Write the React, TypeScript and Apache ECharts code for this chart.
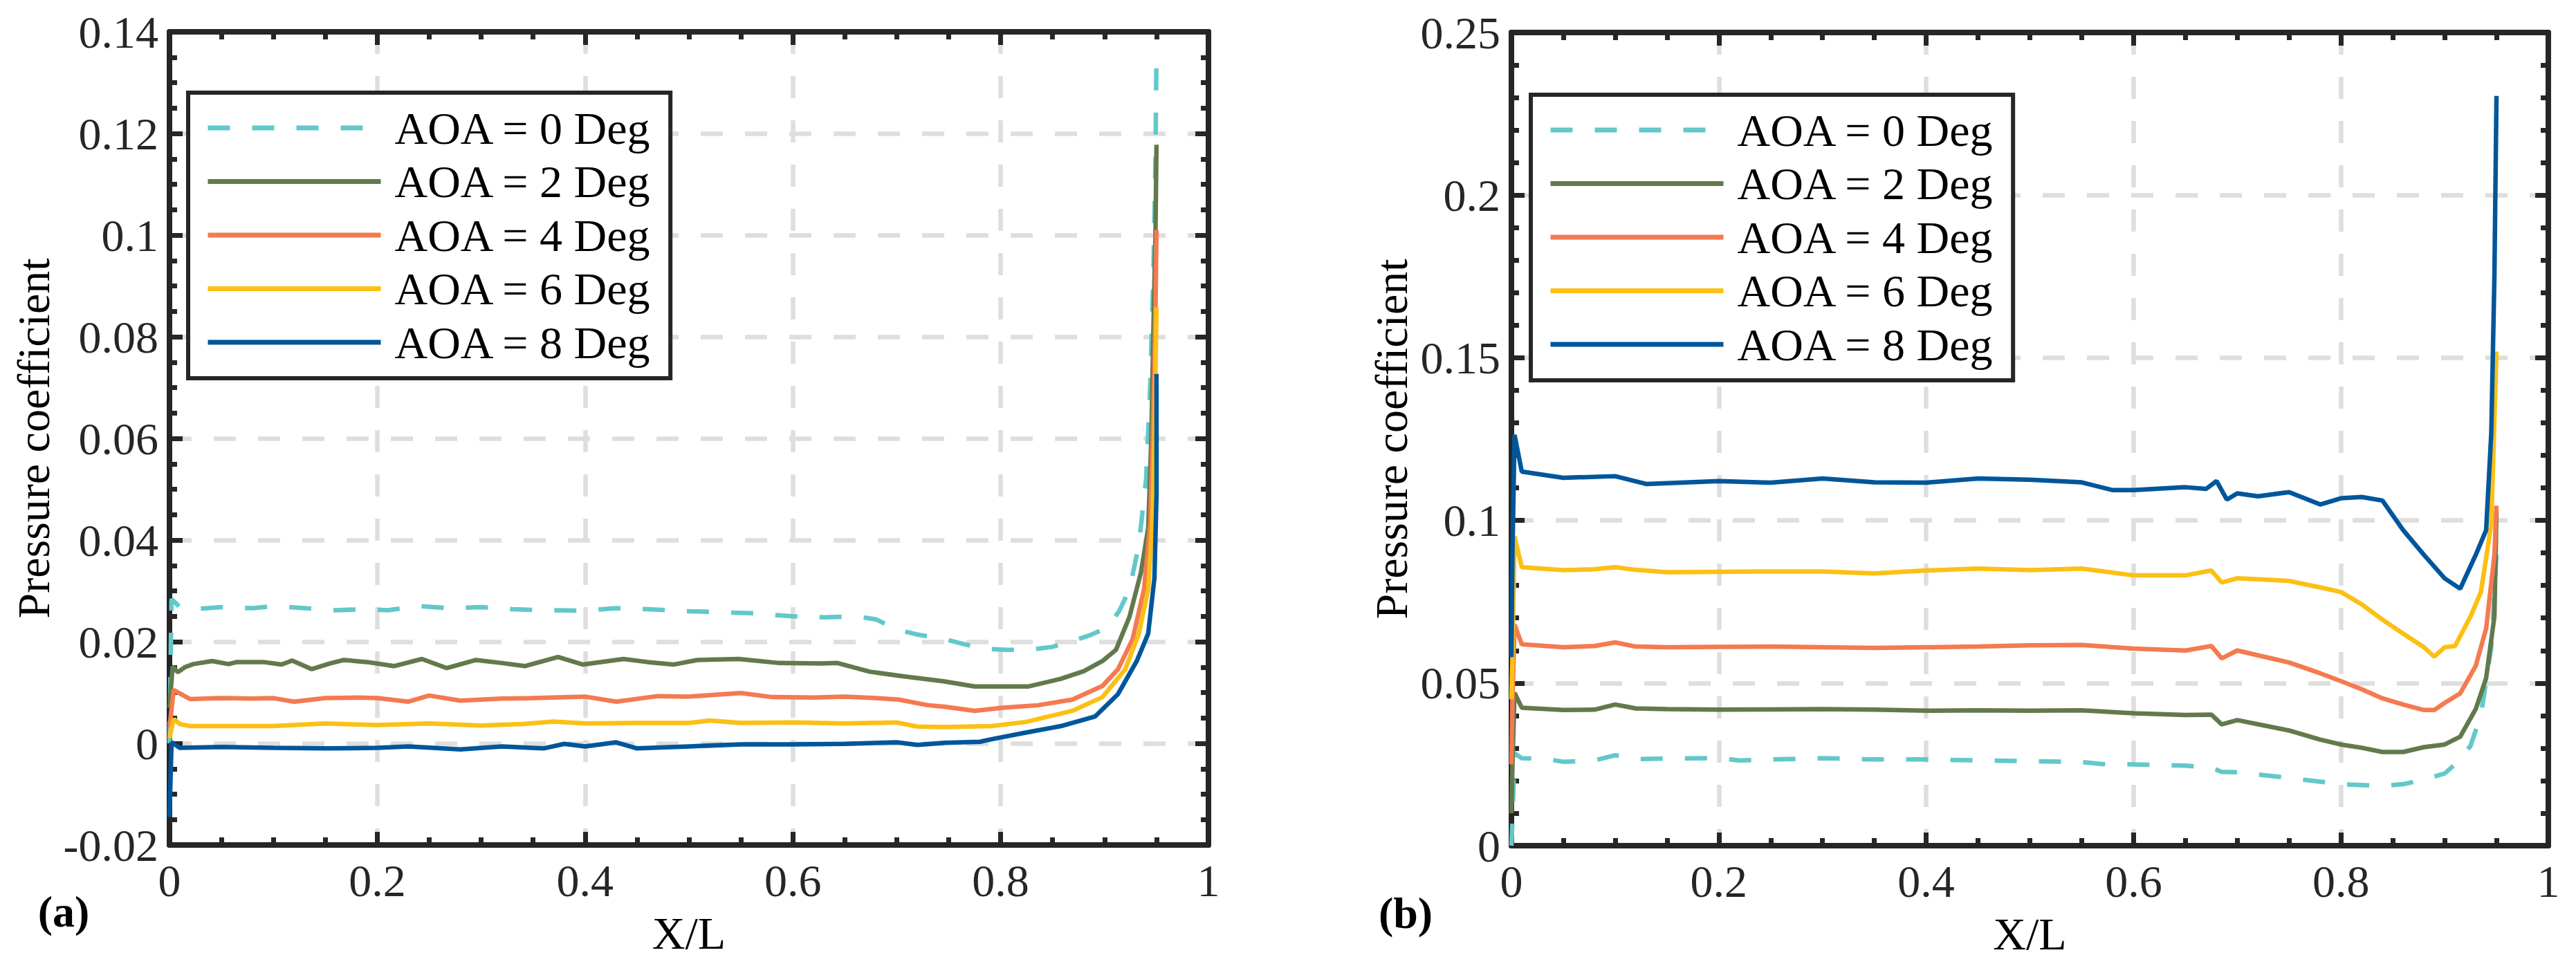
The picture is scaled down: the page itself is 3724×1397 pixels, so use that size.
import React, { useEffect, useRef } from 'react';
import * as echarts from 'echarts';

// AOA cases, shared by both panels
const seriesNames = ['AOA = 0 Deg', 'AOA = 2 Deg', 'AOA = 4 Deg', 'AOA = 6 Deg', 'AOA = 8 Deg'];
const seriesColors = ['#62C8CA', '#617A4B', '#F47A50', '#FBC015', '#00569B'];

// panel (a): [X/L, Cp]
const leftAoa0: [number, number][] = [
  [0, 0.0], [0.002, 0.0284], [0.01, 0.0268], [0.03, 0.0265], [0.05, 0.0268], [0.08, 0.0266],
  [0.1, 0.027], [0.13, 0.0266], [0.16, 0.0262], [0.19, 0.0264], [0.21, 0.0262], [0.24, 0.027],
  [0.27, 0.0266], [0.3, 0.0268], [0.33, 0.0264], [0.36, 0.0262], [0.4, 0.0261], [0.43, 0.0266],
  [0.46, 0.0264], [0.5, 0.026], [0.53, 0.0258], [0.56, 0.0256], [0.6, 0.025], [0.63, 0.0248],
  [0.66, 0.025], [0.68, 0.0244], [0.7, 0.0224], [0.72, 0.0214], [0.746, 0.0205], [0.765, 0.0195],
  [0.784, 0.0186], [0.805, 0.0184], [0.827, 0.0184], [0.85, 0.019], [0.867, 0.02], [0.885, 0.0212],
  [0.902, 0.0227], [0.914, 0.026], [0.924, 0.0303], [0.933, 0.039], [0.94, 0.052], [0.944, 0.0705],
  [0.947, 0.0923], [0.949, 0.115], [0.95, 0.1363],
];
const leftAoa2: [number, number][] = [
  [0, 0.007], [0.003, 0.0151], [0.008, 0.014], [0.015, 0.015], [0.023, 0.0156], [0.041, 0.0162],
  [0.057, 0.0156], [0.065, 0.016], [0.09, 0.016], [0.108, 0.0155], [0.118, 0.0163], [0.137, 0.0146],
  [0.154, 0.0157], [0.168, 0.0164], [0.19, 0.016], [0.216, 0.0152], [0.243, 0.0166], [0.267, 0.0148],
  [0.295, 0.0164], [0.32, 0.0158], [0.342, 0.0152], [0.374, 0.017], [0.398, 0.0155], [0.437, 0.0166],
  [0.46, 0.016], [0.485, 0.0155], [0.508, 0.0164], [0.548, 0.0166], [0.587, 0.0158], [0.627, 0.0157],
  [0.643, 0.0158], [0.674, 0.0141], [0.706, 0.0132], [0.745, 0.0122], [0.775, 0.0112], [0.802, 0.0112],
  [0.827, 0.0112], [0.858, 0.0127], [0.88, 0.0142], [0.898, 0.0162], [0.911, 0.0184], [0.924, 0.0249],
  [0.935, 0.0336], [0.942, 0.0423], [0.945, 0.0597], [0.947, 0.0814], [0.949, 0.1], [0.95, 0.1178],
];
const leftAoa4: [number, number][] = [
  [0, 0.003], [0.004, 0.0105], [0.01, 0.0098], [0.02, 0.0087], [0.05, 0.0089], [0.08, 0.0088],
  [0.1, 0.0089], [0.12, 0.0082], [0.15, 0.0089], [0.18, 0.009], [0.2, 0.0089], [0.23, 0.0082],
  [0.25, 0.0094], [0.28, 0.0084], [0.32, 0.0088], [0.35, 0.0089], [0.4, 0.0092], [0.43, 0.0082],
  [0.47, 0.0093], [0.5, 0.0092], [0.55, 0.0099], [0.58, 0.0091], [0.62, 0.009], [0.65, 0.0092],
  [0.68, 0.0089], [0.702, 0.0086], [0.73, 0.0075], [0.746, 0.0072], [0.775, 0.0064], [0.802, 0.007],
  [0.836, 0.0075], [0.869, 0.0086], [0.898, 0.0113], [0.913, 0.0146], [0.927, 0.0205], [0.938, 0.0303],
  [0.944, 0.0434], [0.947, 0.0651], [0.949, 0.085], [0.95, 0.101],
];
const leftAoa6: [number, number][] = [
  [0, 0.001], [0.004, 0.0048], [0.01, 0.0038], [0.02, 0.0034], [0.06, 0.0034], [0.1, 0.0034],
  [0.15, 0.0039], [0.2, 0.0036], [0.25, 0.0039], [0.3, 0.0035], [0.34, 0.0038], [0.37, 0.0043],
  [0.4, 0.0039], [0.45, 0.004], [0.5, 0.004], [0.52, 0.0045], [0.55, 0.004], [0.6, 0.0041],
  [0.65, 0.0039], [0.7, 0.0041], [0.72, 0.0033], [0.746, 0.0032], [0.791, 0.0034], [0.824, 0.0042],
  [0.869, 0.0064], [0.898, 0.0091], [0.92, 0.0146], [0.933, 0.0216], [0.942, 0.0303], [0.946, 0.0434],
  [0.948, 0.0597], [0.95, 0.0858],
];
const leftAoa8: [number, number][] = [
  [0, -0.0145], [0.002, 0.0002], [0.01, -0.0009], [0.05, -0.0007], [0.1, -0.0009], [0.15, -0.001],
  [0.2, -0.0009], [0.23, -0.0006], [0.28, -0.0012], [0.32, -0.0006], [0.36, -0.001], [0.38, -0.0001],
  [0.4, -0.0006], [0.43, 0.0002], [0.45, -0.001], [0.5, -0.0006], [0.55, -0.0002], [0.6, -0.0002],
  [0.65, -0.0001], [0.7, 0.0002], [0.72, -0.0003], [0.746, 0.0001], [0.78, 0.0003], [0.791, 0.0008],
  [0.824, 0.0021], [0.858, 0.0034], [0.891, 0.0053], [0.913, 0.0097], [0.931, 0.0162], [0.942, 0.0216],
  [0.948, 0.0325], [0.95, 0.0488], [0.95, 0.0727],
];

// panel (b)
const rightAoa0: [number, number][] = [
  [0, 0.0], [0.001, 0.008], [0.003, 0.0284], [0.01, 0.0269], [0.03, 0.0268], [0.05, 0.0258],
  [0.08, 0.0262], [0.1, 0.0278], [0.12, 0.0266], [0.15, 0.0268], [0.2, 0.0269], [0.22, 0.0262],
  [0.25, 0.0265], [0.3, 0.0269], [0.35, 0.0265], [0.4, 0.0265], [0.45, 0.0262], [0.5, 0.026],
  [0.55, 0.0257], [0.57, 0.0251], [0.6, 0.025], [0.65, 0.0246], [0.675, 0.024], [0.685, 0.0227],
  [0.7, 0.0226], [0.75, 0.0208], [0.8, 0.0189], [0.84, 0.0184], [0.86, 0.0189], [0.88, 0.0203],
  [0.9, 0.0222], [0.91, 0.025], [0.925, 0.0307], [0.935, 0.0402], [0.945, 0.061], [0.95, 0.0894],
];
const rightAoa2: [number, number][] = [
  [0, 0.01], [0.001, 0.025], [0.003, 0.047], [0.01, 0.0424], [0.05, 0.0417], [0.08, 0.0418],
  [0.1, 0.0434], [0.12, 0.0422], [0.15, 0.042], [0.2, 0.0418], [0.25, 0.0419], [0.3, 0.042],
  [0.35, 0.0418], [0.4, 0.0415], [0.45, 0.0416], [0.5, 0.0415], [0.55, 0.0416], [0.6, 0.0407],
  [0.65, 0.0402], [0.675, 0.0403], [0.685, 0.0373], [0.7, 0.0386], [0.75, 0.0354], [0.78, 0.0326],
  [0.8, 0.0311], [0.82, 0.0301], [0.84, 0.0288], [0.86, 0.0288], [0.88, 0.0303], [0.9, 0.0311],
  [0.915, 0.0335], [0.93, 0.042], [0.94, 0.0515], [0.948, 0.0705], [0.95, 0.1027],
];
const rightAoa4: [number, number][] = [
  [0, 0.025], [0.001, 0.045], [0.003, 0.068], [0.01, 0.0619], [0.05, 0.061], [0.08, 0.0614],
  [0.1, 0.0625], [0.12, 0.0612], [0.15, 0.061], [0.2, 0.0611], [0.25, 0.0612], [0.3, 0.061],
  [0.35, 0.0608], [0.4, 0.061], [0.45, 0.0612], [0.5, 0.0616], [0.55, 0.0617], [0.6, 0.0606],
  [0.65, 0.06], [0.675, 0.0614], [0.685, 0.0576], [0.7, 0.06], [0.75, 0.0563], [0.78, 0.053],
  [0.8, 0.0506], [0.82, 0.0481], [0.84, 0.0453], [0.86, 0.0434], [0.88, 0.0417], [0.89, 0.0417],
  [0.9, 0.0439], [0.915, 0.0468], [0.93, 0.0553], [0.94, 0.0667], [0.948, 0.0894], [0.95, 0.1045],
];
const rightAoa6: [number, number][] = [
  [0, 0.045], [0.001, 0.058], [0.003, 0.0951], [0.01, 0.0856], [0.05, 0.0847], [0.08, 0.085],
  [0.1, 0.0856], [0.12, 0.0848], [0.15, 0.0841], [0.2, 0.0842], [0.25, 0.0843], [0.3, 0.0843],
  [0.35, 0.0837], [0.4, 0.0846], [0.45, 0.0852], [0.5, 0.0847], [0.55, 0.0852], [0.6, 0.0831],
  [0.65, 0.0831], [0.675, 0.0846], [0.685, 0.0809], [0.7, 0.0822], [0.75, 0.0814], [0.78, 0.0794],
  [0.8, 0.078], [0.82, 0.0742], [0.84, 0.0695], [0.86, 0.0652], [0.88, 0.061], [0.89, 0.0581],
  [0.9, 0.061], [0.91, 0.0614], [0.925, 0.0705], [0.935, 0.078], [0.945, 0.0989], [0.95, 0.1519],
];
const rightAoa8: [number, number][] = [
  [0, 0.058], [0.001, 0.09], [0.003, 0.1263], [0.01, 0.115], [0.05, 0.1131], [0.1, 0.1136],
  [0.13, 0.1112], [0.2, 0.1121], [0.25, 0.1116], [0.3, 0.1129], [0.35, 0.1117], [0.4, 0.1116],
  [0.45, 0.1129], [0.5, 0.1125], [0.55, 0.1117], [0.58, 0.1093], [0.6, 0.1093], [0.65, 0.1102],
  [0.67, 0.1097], [0.68, 0.1121], [0.69, 0.1064], [0.7, 0.1083], [0.72, 0.1074], [0.75, 0.1087],
  [0.78, 0.1049], [0.8, 0.1068], [0.82, 0.1072], [0.84, 0.1061], [0.86, 0.097], [0.88, 0.0894],
  [0.9, 0.0822], [0.915, 0.079], [0.93, 0.0894], [0.94, 0.097], [0.945, 0.127], [0.948, 0.175],
  [0.95, 0.2305],
];

const leftSeries = [leftAoa0, leftAoa2, leftAoa4, leftAoa6, leftAoa8];
const rightSeries = [rightAoa0, rightAoa2, rightAoa4, rightAoa6, rightAoa8];

// axis ranges
const xRange = { min: 0, max: 1, interval: 0.2 };
const leftYRange = { min: -0.02, max: 0.14, interval: 0.02 };
const rightYRange = { min: 0, max: 0.25, interval: 0.05 };

const FONT = 'Liberation Serif';
const AXIS_COLOR = '#262626';
const fmt = (v: number) => String(Number(v.toFixed(4)));

function makeAxis(
  gridIndex: number,
  position: 'bottom' | 'top' | 'left' | 'right',
  range: { min: number; max: number; interval: number },
  minorSplit: number,
  main: boolean,
  extra: any = {}
) {
  return {
    type: 'value',
    gridIndex,
    position,
    min: range.min,
    max: range.max,
    interval: range.interval,
    axisLine: { show: true, onZero: false, lineStyle: { color: AXIS_COLOR, width: 8 } },
    axisTick: { show: true, inside: true, length: 19, lineStyle: { color: AXIS_COLOR, width: 7 } },
    minorTick: { show: true, splitNumber: minorSplit, length: 11, lineStyle: { color: AXIS_COLOR, width: 7 } },
    axisLabel: {
      show: main,
      formatter: fmt,
      fontFamily: FONT,
      fontSize: 66,
      lineHeight: 66,
      color: AXIS_COLOR,
      margin: position === 'bottom' ? 18 : 16,
    },
    splitLine: {
      show: main,
      lineStyle: { color: '#dedede', width: 6.5, type: [32, 32] },
    },
    ...extra,
  };
}

function legendFor(left: number, top: number) {
  return {
    data: seriesNames,
    orient: 'vertical',
    left,
    top,
    padding: [18, 26, 19, 25],
    itemWidth: 250,
    itemHeight: 14,
    itemGap: 11.5,
    selectedMode: false,
    backgroundColor: '#ffffff',
    borderColor: AXIS_COLOR,
    borderWidth: 6,
    borderRadius: 0,
    itemStyle: { opacity: 0 },
    lineStyle: { width: 7 },
    textStyle: { fontFamily: FONT, fontSize: 66, lineHeight: 66, color: '#000', padding: [0, 0, 0, 15] },
  };
}

const App: React.FC = () => {
  const chartRef = useRef<HTMLDivElement>(null);

  useEffect(() => {
    if (!chartRef.current) return;
    document.body.style.margin = '0';
    const chart = echarts.init(chartRef.current, undefined, { renderer: 'svg' });

    const nameStyle = { fontFamily: FONT, fontSize: 66, lineHeight: 66, color: '#000' };

    const series: any[] = [];
    [leftSeries, rightSeries].forEach((group, panel) => {
      group.forEach((data, i) => {
        series.push({
          name: seriesNames[i],
          type: 'line',
          xAxisIndex: panel * 2,
          yAxisIndex: panel * 2,
          data,
          symbol: 'none',
          showSymbol: false,
          itemStyle: { color: seriesColors[i] },
          lineStyle: {
            color: seriesColors[i],
            width: 6.5,
            type: i === 0 ? [32, 32] : 'solid',
          },
          z: 3 + i,
        });
      });
    });

    chart.setOption({
      animation: false,
      backgroundColor: '#ffffff',
      grid: [
        { left: 245, top: 46, width: 1502, height: 1176 },
        { left: 2185, top: 47, width: 1499, height: 1176 },
      ],
      xAxis: [
        makeAxis(0, 'bottom', xRange, 4, true, {
          name: 'X/L', nameLocation: 'middle', nameGap: 94, nameTextStyle: nameStyle,
        }),
        makeAxis(0, 'top', xRange, 4, false),
        makeAxis(1, 'bottom', xRange, 4, true, {
          name: 'X/L', nameLocation: 'middle', nameGap: 94, nameTextStyle: nameStyle,
        }),
        makeAxis(1, 'top', xRange, 4, false),
      ],
      yAxis: [
        makeAxis(0, 'left', leftYRange, 4, true, {
          name: 'Pressure coefficient', nameLocation: 'middle', nameGap: 164, nameTextStyle: nameStyle,
        }),
        makeAxis(0, 'right', leftYRange, 4, false),
        makeAxis(1, 'left', rightYRange, 5, true, {
          name: 'Pressure coefficient', nameLocation: 'middle', nameGap: 141, nameTextStyle: nameStyle,
        }),
        makeAxis(1, 'right', rightYRange, 5, false),
      ],
      legend: [legendFor(272, 134), legendFor(2213, 137)],
      graphic: [
        {
          type: 'text', x: 92, y: 1318,
          style: { text: '(a)', fontFamily: FONT, fontSize: 64, fontWeight: 'bold', fill: '#000', align: 'center', verticalAlign: 'middle' },
        },
        {
          type: 'text', x: 2032, y: 1320,
          style: { text: '(b)', fontFamily: FONT, fontSize: 64, fontWeight: 'bold', fill: '#000', align: 'center', verticalAlign: 'middle' },
        },
      ],
      series,
    });

    return () => {
      chart.dispose();
    };
  }, []);

  return <div ref={chartRef} style={{ width: '3724px', height: '1397px' }} />;
};

export default App;
